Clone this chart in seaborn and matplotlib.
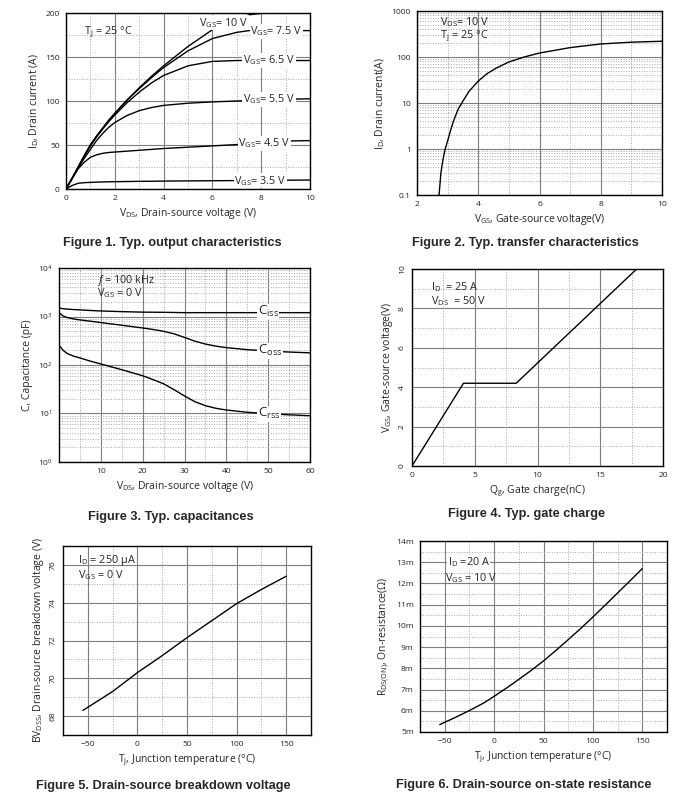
import numpy as np
import pandas as pd
import matplotlib
matplotlib.use("Agg")
import matplotlib.pyplot as plt
from matplotlib.ticker import MultipleLocator, LogLocator, FixedLocator, NullFormatter, FuncFormatter
import seaborn as sns

sns.set_style("white")
plt.rcParams['font.family'] = ['Open Sans', 'DejaVu Sans']
plt.rcParams['mathtext.fontset'] = 'custom'
plt.rcParams['mathtext.rm'] = 'Open Sans'
plt.rcParams['mathtext.it'] = 'Open Sans:italic'
plt.rcParams['mathtext.default'] = 'regular'

# --- data ---

# Fig 1: output characteristics, ID vs VDS for several VGS
vds_out = [0, 0.25, 0.5, 0.75, 1, 1.25, 1.5, 1.75, 2, 2.5, 3, 3.5, 4, 5, 6, 7, 7.5, 8, 8.5, 9, 10]
id_35 = [0, 4, 6.5, 7.2, 7.5, 7.8, 8, 8.2, 8.3, 8.5, 8.7, 8.8, 9, 9.2, 9.4, 9.6, 9.7, 9.8, 9.9, 10, 10.2]
id_45 = [0, 12, 23, 30.5, 36, 38.8, 40.5, 41.5, 42, 43, 44, 45, 46, 47.5, 49, 50.5, 51.5, 52.5, 53.5, 54.5, 55]
id_55 = [0, 12, 24, 35, 45, 55, 63, 70, 75.5, 83.5, 89, 92.5, 95, 97.5, 99, 100, 100.5, 101, 101.5, 102, 102.5]
id_65 = [0, 12, 25, 37, 49, 59, 68, 76.5, 84, 98, 110, 120.5, 129, 140, 145, 146, 146, 146, 146, 146, 146]
id_75 = [0, 12, 25, 38, 50, 60, 69, 78, 86, 101, 114, 126.5, 138, 157, 171, 178, 180, 180, 180, 180, 180]
vds_10 = [0, 0.25, 0.5, 0.75, 1, 1.25, 1.5, 1.75, 2, 2.5, 3, 3.5, 4, 5, 6, 6.7, 7.5, 8, 8.5]
id_10 = [0, 12, 25, 38, 50, 60, 69, 78, 86, 101, 115, 128, 140, 162, 181, 191, 198, 199.5, 200]

# Fig 2: transfer characteristics
vgs_tr = [2.72, 2.78, 2.85, 2.92, 3.0, 3.1, 3.2, 3.35, 3.5, 3.7, 4.0, 4.3, 4.6, 5.0, 5.5, 6.0, 7.0, 8.0, 9.0, 10.0]
id_tr = [0.1, 0.3, 0.6, 1.0, 1.5, 2.6, 4.2, 7.5, 11, 18, 30, 44, 58, 78, 100, 122, 160, 192, 210, 220]

# Fig 3: capacitances
vds_cap = [0.3, 1, 2, 3.5, 5, 7.5, 10, 15, 20, 22.5, 25, 27.5, 30, 32.5, 35, 37.5, 40, 45, 50, 55, 60]
c_iss = [1480, 1450, 1420, 1390, 1370, 1330, 1300, 1260, 1230, 1225, 1220, 1210, 1200, 1200, 1200, 1200, 1200, 1200, 1200, 1200, 1200]
c_oss = [1150, 1020, 950, 890, 850, 800, 750, 660, 580, 540, 495, 440, 370, 310, 270, 245, 228, 207, 195, 185, 178]
c_rss = [240, 200, 172, 152, 140, 120, 105, 80, 60, 50, 41, 31, 23, 17.5, 14.5, 12.8, 11.8, 10.6, 9.9, 9.4, 9.0]

# Fig 4: gate charge
qg = [0, 4.1, 8.3, 17.9]
vgs_gc = [0, 4.2, 4.2, 10]

# Fig 5: breakdown voltage vs temperature
tj_bv = [-55, -25, 0, 25, 50, 75, 100, 125, 150]
bv = [68.3, 69.3, 70.3, 71.2, 72.15, 73.05, 73.95, 74.7, 75.4]

# Fig 6: on-resistance vs temperature (mOhm)
tj_r = [-55, -40, -25, -10, 0, 12.5, 25, 37.5, 50, 62.5, 75, 87.5, 100, 112.5, 125, 137.5, 150]
rds = [5.35, 5.67, 6.01, 6.38, 6.68, 7.07, 7.48, 7.9, 8.35, 8.84, 9.35, 9.87, 10.42, 10.98, 11.55, 12.12, 12.7]

W, H = 686, 808
fig = plt.figure(figsize=(W / 100, H / 100), dpi=100)


def make_ax(l, t, r, b):
    return fig.add_axes([l / W, 1 - b / H, (r - l) / W, (b - t) / H])


def style(ax):
    ax.grid(True, which='major', color='#7f7f7f', lw=0.8, ls='-')
    ax.grid(True, which='minor', color='#a8a8a8', lw=0.7, ls=':')
    for s in ax.spines.values():
        s.set_color('black')
        s.set_linewidth(1.0)
    ax.tick_params(which='major', labelsize=6.1, length=2.5, width=0.6, pad=2, color='black', direction='out')
    ax.tick_params(which='minor', length=1.5, width=0.5, color='black', direction='out')
    ax.set_axisbelow(True)


lab = dict(fontsize=7.5)
ann = dict(fontsize=7.8)
ttl = dict(fontsize=9.2, fontweight='bold', family='Liberation Sans', ha='center', va='center')
box = dict(facecolor='white', edgecolor='none', pad=0.3)
degc = '\u00b0C'

# ---- Figure 1 ----
ax1 = make_ax(66, 13, 310, 189)
curves = [(vds_out, id_35), (vds_out, id_45), (vds_out, id_55), (vds_out, id_65), (vds_out, id_75), (vds_10, id_10)]
for xs, ys in curves:
    sns.lineplot(x=xs, y=ys, ax=ax1, color='black', lw=1.0)
ax1.set_xlim(0, 10)
ax1.set_ylim(0, 200)
ax1.xaxis.set_major_locator(MultipleLocator(2))
ax1.xaxis.set_minor_locator(MultipleLocator(1))
ax1.yaxis.set_major_locator(MultipleLocator(50))
ax1.yaxis.set_minor_locator(MultipleLocator(25))
style(ax1)
ax1.set_xlabel('V$_{DS}$, Drain-source voltage (V)', labelpad=3, **lab)
ax1.set_ylabel('I$_D$, Drain current (A)', labelpad=3, **lab)
ax1.text(0.75, 176, 'T$_j$ = 25 ' + degc, **ann)
vgs_labels = [('V$_{GS}$= 10 V', 5.45, 189), ('V$_{GS}$= 7.5 V', 7.55, 179), ('V$_{GS}$= 6.5 V', 7.25, 146),
              ('V$_{GS}$= 5.5 V', 7.25, 102), ('V$_{GS}$= 4.5 V', 7.05, 52), ('V$_{GS}$= 3.5 V', 6.9, 9.5)]
for t, x, y in vgs_labels:
    ax1.text(x, y, t, va='center', bbox=box, zorder=5, **ann)
fig.text(172 / W, 1 - 243 / H, 'Figure 1. Typ. output characteristics', **ttl)

# ---- Figure 2 ----
ax2 = make_ax(417, 11, 662, 195)
sns.lineplot(x=vgs_tr, y=id_tr, ax=ax2, color='black', lw=1.0)
ax2.set_yscale('log')
ax2.set_xlim(2, 10)
ax2.set_ylim(0.1, 1000)
ax2.xaxis.set_major_locator(MultipleLocator(2))
ax2.xaxis.set_minor_locator(MultipleLocator(1))
ax2.yaxis.set_major_locator(FixedLocator([0.1, 1, 10, 100, 1000]))
ax2.yaxis.set_minor_locator(LogLocator(base=10, subs=np.arange(2, 10)))
ax2.yaxis.set_minor_formatter(NullFormatter())
ax2.yaxis.set_major_formatter(FuncFormatter(lambda v, p: f'{v:g}'))
style(ax2)
ax2.set_xlabel('V$_{GS}$, Gate-source voltage(V)', labelpad=3, **lab)
ax2.set_ylabel('I$_D$, Drain current(A)', labelpad=3, **lab)
ax2.text(2.75, 560, 'V$_{DS}$= 10 V', va='center', **ann)
ax2.text(2.75, 290, 'T$_j$ = 25 ' + degc, va='center', **ann)
fig.text(525 / W, 1 - 243 / H, 'Figure 2. Typ. transfer characteristics', **ttl)

# ---- Figure 3 ----
ax3 = make_ax(59, 268, 310, 462)
for ys in (c_iss, c_oss, c_rss):
    sns.lineplot(x=vds_cap, y=ys, ax=ax3, color='black', lw=1.0)
ax3.set_yscale('log')
ax3.set_xlim(0, 60)
ax3.set_ylim(1, 1e4)
ax3.xaxis.set_major_locator(FixedLocator([10, 20, 30, 40, 50, 60]))
ax3.xaxis.set_minor_locator(FixedLocator([5, 15, 25, 35, 45, 55]))
ax3.yaxis.set_major_locator(FixedLocator([1, 10, 100, 1000, 10000]))
ax3.yaxis.set_minor_locator(LogLocator(base=10, subs=np.arange(2, 10)))
ax3.yaxis.set_minor_formatter(NullFormatter())
ax3.yaxis.set_major_formatter(FuncFormatter(lambda v, p: '10$^{%d}$' % round(np.log10(v))))
style(ax3)
ax3.set_xlabel('V$_{DS}$, Drain-source voltage (V)', labelpad=3, **lab)
ax3.set_ylabel('C, Capacitance (pF)', labelpad=3, **lab)
ax3.text(9, 5500, '$\\mathit{f}$ = 100 kHz', va='center', **ann)
ax3.text(9, 3000, 'V$_{GS}$ = 0 V', va='center', **ann)
for t, y in (('C$_{iss}$', 1250), ('C$_{oss}$', 195), ('C$_{rss}$', 9.8)):
    ax3.text(47.5, y, t, va='center', fontsize=9.5, bbox=box, zorder=5)
fig.text(171 / W, 1 - 517 / H, 'Figure 3. Typ. capacitances', **ttl)

# ---- Figure 4 ----
ax4 = make_ax(412, 269, 663, 466)
sns.lineplot(x=qg, y=vgs_gc, ax=ax4, color='black', lw=1.0)
ax4.set_xlim(0, 20)
ax4.set_ylim(0, 10)
ax4.xaxis.set_major_locator(MultipleLocator(5))
ax4.xaxis.set_minor_locator(MultipleLocator(2.5))
ax4.yaxis.set_major_locator(MultipleLocator(2))
ax4.yaxis.set_minor_locator(MultipleLocator(1))
style(ax4)
plt.setp(ax4.get_yticklabels(), rotation=90, va='center')
ax4.set_xlabel('Q$_g$, Gate charge(nC)', labelpad=3, **lab)
ax4.set_ylabel('V$_{GS}$, Gate-source voltage(V)', labelpad=3, **lab)
ax4.text(1.5, 9.1, 'I$_D$  = 25 A', va='center', **ann)
ax4.text(1.5, 8.35, 'V$_{DS}$  = 50 V', va='center', **ann)
fig.text(527 / W, 1 - 514 / H, 'Figure 4. Typ. gate charge', **ttl)

# ---- Figure 5 ----
ax5 = make_ax(63, 546, 311, 735)
sns.lineplot(x=tj_bv, y=bv, ax=ax5, color='black', lw=1.0)
ax5.set_xlim(-75, 175)
ax5.set_ylim(67, 77)
ax5.xaxis.set_major_locator(FixedLocator([-50, 0, 50, 100, 150]))
ax5.xaxis.set_minor_locator(FixedLocator([-75, -25, 25, 75, 125, 175]))
ax5.yaxis.set_major_locator(FixedLocator([68, 70, 72, 74, 76]))
ax5.yaxis.set_minor_locator(MultipleLocator(1))
style(ax5)
plt.setp(ax5.get_yticklabels(), rotation=90, va='center')
ax5.set_xlabel('T$_j$, Junction temperature (' + degc + ')', labelpad=3, **lab)
ax5.set_ylabel('BV$_{DSS}$, Drain-source breakdown voltage (V)', labelpad=3, **lab)
ax5.text(-60, 76.25, 'I$_D$ = 250 \u03bcA', va='center', **ann)
ax5.text(-60, 75.45, 'V$_{GS}$ = 0 V', va='center', **ann)
fig.text(163 / W, 1 - 786 / H, 'Figure 5. Drain-source breakdown voltage', **ttl)

# ---- Figure 6 ----
ax6 = make_ax(420, 541, 667, 732)
sns.lineplot(x=tj_r, y=rds, ax=ax6, color='black', lw=1.0)
ax6.set_xlim(-75, 175)
ax6.set_ylim(5, 14)
ax6.xaxis.set_major_locator(FixedLocator([-50, 0, 50, 100, 150]))
ax6.xaxis.set_minor_locator(FixedLocator([-75, -25, 25, 75, 125, 175]))
ax6.yaxis.set_major_locator(MultipleLocator(1))
ax6.yaxis.set_minor_locator(MultipleLocator(0.5))
ax6.yaxis.set_major_formatter(FuncFormatter(lambda v, p: f'{v:.0f}m'))
style(ax6)
ax6.set_xlabel('T$_j$, Junction temperature (' + degc + ')', labelpad=3, **lab)
ax6.set_ylabel('R$_{DS(ON)}$, On-resistance(\u03a9)', labelpad=3, **lab)
ax6.text(-47, 13.0, 'I$_D$ =20 A', va='center', bbox=box, **ann)
ax6.text(-50, 12.25, 'V$_{GS}$ = 10 V', va='center', **ann)
fig.text(524 / W, 1 - 785 / H, 'Figure 6. Drain-source on-state resistance', **ttl)

fig.savefig('out.png', dpi=100, facecolor='white')
